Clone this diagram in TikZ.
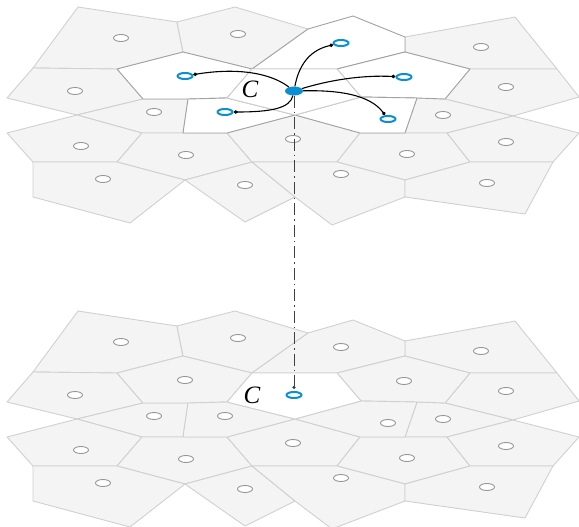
\documentclass[tikz,border=0pt]{standalone}
\usepackage{fontspec}
\setmainfont{Liberation Serif}
\usetikzlibrary{shapes.geometric,arrows.meta}
\definecolor{cellfill}{HTML}{F4F4F4}
\definecolor{celledge}{HTML}{D0D0D0}
\definecolor{darkedge}{HTML}{A2A2A2}
\definecolor{sitegray}{HTML}{979797}
\definecolor{siteblue}{HTML}{0A8FD2}
\tikzset{
  cell/.style={fill=cellfill,draw=celledge,line width=0.9pt,line join=round},
  wcell/.style={fill=white,draw=darkedge,line width=0.9pt,line join=round},
  ccell/.style={fill=white,draw=celledge,line width=0.9pt,line join=round},
  site/.style={ellipse,draw=sitegray,fill=white,line width=0.9pt,minimum width=15pt,minimum height=7pt,inner sep=0pt},
  bsite/.style={ellipse,draw=siteblue,fill=white,line width=2pt,minimum width=15pt,minimum height=6pt,inner sep=0pt},
  csite/.style={ellipse,fill=siteblue,draw=none,minimum width=18pt,minimum height=9pt,inner sep=0pt},
  lbl/.style={inner sep=0pt,font=\fontsize{25}{25}\selectfont\itshape},
  arr/.style={-{Diamond[length=4.5pt,width=3.8pt]},line width=1.1pt,black},
  dd/.style={-{Circle[length=3.2pt]},line width=1pt,draw=black!75,dash pattern=on 12pt off 4pt on 1.5pt off 4pt,shorten >=2pt}
}
\newcommand\voronoigrid[2]{%
  % plain cells
  \draw[cell] (78,7) -- (177,22) -- (183,52) -- (117,69) -- (33,68) -- cycle; % A
  \draw[cell] (177,22) -- (235,7) -- (308,29) -- (252,69) -- (183,52) -- cycle; % B
  \draw[cell] (405,37) -- (515,17) -- (557,69) -- (470,69) -- (405,52) -- cycle; % E
  \draw[cell] (33,68) -- (117,69) -- (143,99) -- (77,115) -- (7,98) -- cycle; % F
  \draw[cell] (470,69) -- (557,69) -- (579,97) -- (513,116) -- (445,99) -- cycle; % J
  \draw[cell] (143,99) -- (188,99) -- (183,133) -- (142,133) -- (77,115) -- cycle; % K
  \draw[cell] (417,98) -- (445,99) -- (513,116) -- (447,133) -- (405,133) -- cycle; % N
  \draw[cell] (7,133) -- (77,115) -- (142,133) -- (117,162) -- (33,162) -- cycle; % O
  \draw[cell] (142,133) -- (227,133) -- (252,162) -- (185,180) -- (117,162) -- cycle; % P
  \draw[cell] (227,133) -- (295,115) -- (360,133) -- (337,162) -- (252,162) -- cycle; % Q
  \draw[cell] (360,133) -- (405,133) -- (447,133) -- (470,162) -- (405,180) -- (337,162) -- cycle; % R
  \draw[cell] (447,133) -- (513,116) -- (579,133) -- (553,162) -- (470,162) -- cycle; % S
  \draw[cell] (33,162) -- (117,162) -- (185,180) -- (130,223) -- (33,197) -- cycle; % T
  \draw[cell] (185,180) -- (252,162) -- (295,197) -- (245,222) -- cycle; % U
  \draw[cell] (252,162) -- (337,162) -- (405,180) -- (405,197) -- (332,225) -- (295,197) -- cycle; % V
  \draw[cell] (405,180) -- (470,162) -- (553,162) -- (525,214) -- (405,197) -- cycle; % W
  % neighbour cells of C
  \draw[#1] (308,29) -- (353,16) -- (405,37) -- (405,52) -- (337,69) -- (252,69) -- cycle; % D
  \draw[#1] (117,69) -- (183,52) -- (252,69) -- (227,98) -- (188,99) -- (143,99) -- cycle; % G
  \draw[#1] (337,69) -- (405,52) -- (470,69) -- (445,99) -- (417,98) -- (361,97) -- cycle; % I
  \draw[#1] (188,99) -- (227,98) -- (295,115) -- (227,133) -- (183,133) -- cycle; % L
  \draw[#1] (295,115) -- (361,97) -- (417,98) -- (405,133) -- (360,133) -- cycle; % M
  % cell C
  \draw[#2] (252,69) -- (337,69) -- (361,97) -- (295,115) -- (227,98) -- cycle; % H
}
\newcommand\voronoisites[3]{%
  \node[site] (#1A) at (121,38) {};
  \node[site] (#1B) at (238,34) {};
  \node[site] (#1E) at (481,47) {};
  \node[site] (#1F) at (75,91) {};
  \node[site] (#1J) at (506,87) {};
  \node[site] (#1K) at (154,112) {};
  \node[site] (#1N) at (443,115) {};
  \node[site] (#1O) at (81,146) {};
  \node[site] (#1P) at (186,155) {};
  \node[site] (#1Q) at (293,139) {};
  \node[site] (#1R) at (407,154) {};
  \node[site] (#1S) at (506,142) {};
  \node[site] (#1T) at (103,179) {};
  \node[site] (#1U) at (245,185) {};
  \node[site] (#1V) at (341,174) {};
  \node[site] (#1W) at (487,183) {};
  \node[#2] (#1D) at (341,43) {};
  \node[#2] (#1G) at (185,76) {};
  \node[#2] (#1I) at (404,77) {};
  \node[#2] (#1L) at (225,112) {};
  \node[#2] (#1M) at (388,119) {};
  \node[#3] (#1H) at (294,91) {};
}
\begin{document}
\begin{tikzpicture}[x=1pt,y=-1pt]
\useasboundingbox (0,0) rectangle (579,527);
% top layer
\voronoigrid{wcell}{ccell}
% bottom layer
\begin{scope}[yshift=-304pt]
\voronoigrid{cell}{ccell}
\end{scope}
% sites
\voronoisites{t}{bsite}{csite}
\begin{scope}[yshift=-304pt]
\voronoisites{b}{site}{bsite}
\end{scope}
% labels
\node[lbl] (tC) at (250,89) {C};
\node[lbl] (bC) at (252,395) {C};
% connectors
\draw[arr] (tH) .. controls (272,74) and (240,67) .. (tG);
\draw[arr] (tH) .. controls (290,108) and (272,112) .. (tL);
\draw[arr] (tH) .. controls (298,70) and (306,51) .. (tD);
\draw[arr] (tH) .. controls (330,80) and (362,75) .. (tI);
\draw[arr] (tH) .. controls (340,90) and (370,95) .. (tM);
\draw[dd] (tH.south) -- (bH.north);
\end{tikzpicture}
\end{document}
